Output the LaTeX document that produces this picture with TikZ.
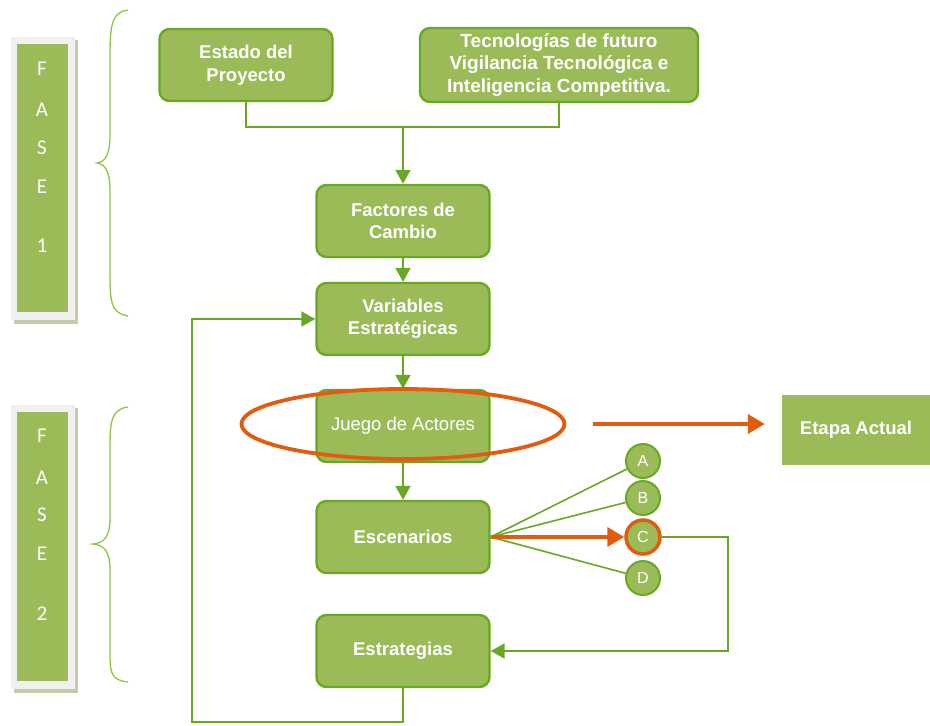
\documentclass[tikz,border=0pt]{standalone}
\usepackage{fontspec}
\setmainfont{Liberation Sans}
\newfontfamily\calfont{Carlito}
\usetikzlibrary{arrows.meta,shapes.geometric,calc}
\definecolor{gfill}{HTML}{9BBB59}
\definecolor{gline}{HTML}{68A822}
\definecolor{glight}{HTML}{8DC63F}
\definecolor{orng}{HTML}{E35B0E}
\definecolor{frame}{HTML}{F0F0F0}
\definecolor{shad}{HTML}{C9C9A8}
\begin{document}
\begin{tikzpicture}[x=1pt,y=-1pt,
  box/.style={rectangle,rounded corners=10pt,fill=gfill,draw=gline,line width=2.4pt,
    minimum width=173pt,minimum height=72pt,align=center,text=white,
    font=\fontsize{18.5}{22.5}\selectfont\bfseries,inner sep=2pt},
  sqbox/.style={rectangle,fill=gfill,minimum width=148pt,minimum height=70pt,text=white,
    font=\fontsize{18.5}{22.5}\selectfont\bfseries},
  circ/.style={circle,fill=gfill,draw=gline,line width=2pt,minimum size=34pt,inner sep=0pt,
    text=white,font=\fontsize{16}{16}\selectfont},
  conn/.style={draw=gline,line width=1.9pt},
  arr/.style={conn,-{Triangle[length=14pt,width=15pt]}},
  thin/.style={draw=gline,line width=1.6pt},
  brace/.style={draw=glight,line width=1.3pt},
  ornarr/.style={draw=orng,line width=3.6pt,-{Triangle[length=17pt,width=19pt]}},
  faseletter/.style={text=white,font=\calfont\fontsize{21}{21}\selectfont}
]
\useasboundingbox (0,0) rectangle (930,726);

% ---- phase bars ----
\fill[shad] (14,40) rectangle (78,324);
\fill[frame] (11,37) rectangle (75,320);
\fill[gfill] (17,44) rectangle (68,312);
\node[faseletter] (f1a) at (42,69) {F};
\node[faseletter] (f1b) at (42,110) {A};
\node[faseletter] (f1c) at (42,148) {S};
\node[faseletter] (f1d) at (42,187) {E};
\node[faseletter] (f1e) at (42,246) {1};

\fill[shad] (14,408) rectangle (78,693);
\fill[frame] (11,405) rectangle (75,689);
\fill[gfill] (17,412) rectangle (68,681);
\node[faseletter] (f2a) at (42,436) {F};
\node[faseletter] (f2b) at (42,478) {A};
\node[faseletter] (f2c) at (42,515) {S};
\node[faseletter] (f2d) at (42,554) {E};
\node[faseletter] (f2e) at (42,614) {2};

% ---- braces ----
\draw[brace] (128,10) .. controls (110,12) and (110,30) .. (110,60)
  -- (110,135) .. controls (110,155) and (105,162) .. (97,163)
  .. controls (105,164) and (110,171) .. (110,191)
  -- (110,270) .. controls (110,300) and (110,313) .. (128,316);
\draw[brace] (128,407) .. controls (110,409) and (110,425) .. (110,450)
  -- (110,518) .. controls (110,537) and (104,543) .. (93,544)
  .. controls (104,545) and (110,551) .. (110,570)
  -- (110,650) .. controls (110,672) and (110,680) .. (128,682);

% ---- boxes ----
\node[box] (estado) at (246,65) {Estado del\\Proyecto};
\node[box,minimum width=278pt,minimum height=74pt,font=\fontsize{19}{22.5}\selectfont\bfseries] (tec) at (559,65)
  {Tecnologías de futuro\\Vigilancia Tecnológica e\\Inteligencia Competitiva.};
\node[box] (factores) at (403,221) {Factores de\\Cambio};
\node[box] (variables) at (403,319) {Variables\\Estratégicas};
\node[box,font=\fontsize{18.5}{22.5}\selectfont] (juego) at (403,426) {Juego de Actores};
\node[box] (escen) at (403,537) {Escenarios};
\node[box] (estrat) at (403,651) {Estrategias};
\node[sqbox] (etapa) at (856,430) {Etapa Actual};

% ---- circles ----
\node[circ] (ca) at (643,461) {A};
\node[circ] (cb) at (643,498) {B};
\node[circ,draw=orng,line width=3.5pt] (cc) at (643,537) {C};
\node[circ] (cd) at (643,578) {D};

% ---- connectors ----
\coordinate (j) at (403,127);
\draw[conn] (estado.south) |- (j) -| (tec.south);
\draw[arr] (j) -- (factores.north);
\draw[arr] (factores.south) -- (variables.north);
\draw[arr] (variables.south) -- (juego.north);
\draw[arr] (juego.south) -- (escen.north);

\draw[thin] (escen.east) -- (ca);
\draw[thin] (escen.east) -- (cb);
\draw[thin] (escen.east) -- (cd);
\draw[ornarr] (escen.east) -- (cc.west);

\coordinate (cr) at (728,537);
\draw[arr] (cc.east) -- (cr) |- (estrat.east);

\coordinate (fb1) at (403,722);
\coordinate (fb2) at (192,722);
\coordinate (fb3) at (192,319);
\draw[arr] (estrat.south) -- (fb1) -- (fb2) -- (fb3) -- (variables.west);

% ---- ellipse highlight ----
\node[ellipse,draw=orng,line width=3.8pt,minimum width=323pt,minimum height=70pt,inner sep=0pt] (ell) at (403,424) {};
\draw[ornarr,shorten <=27pt,shorten >=17pt] (ell.east) -- (ell.east -| etapa.west);
\end{tikzpicture}
\end{document}
